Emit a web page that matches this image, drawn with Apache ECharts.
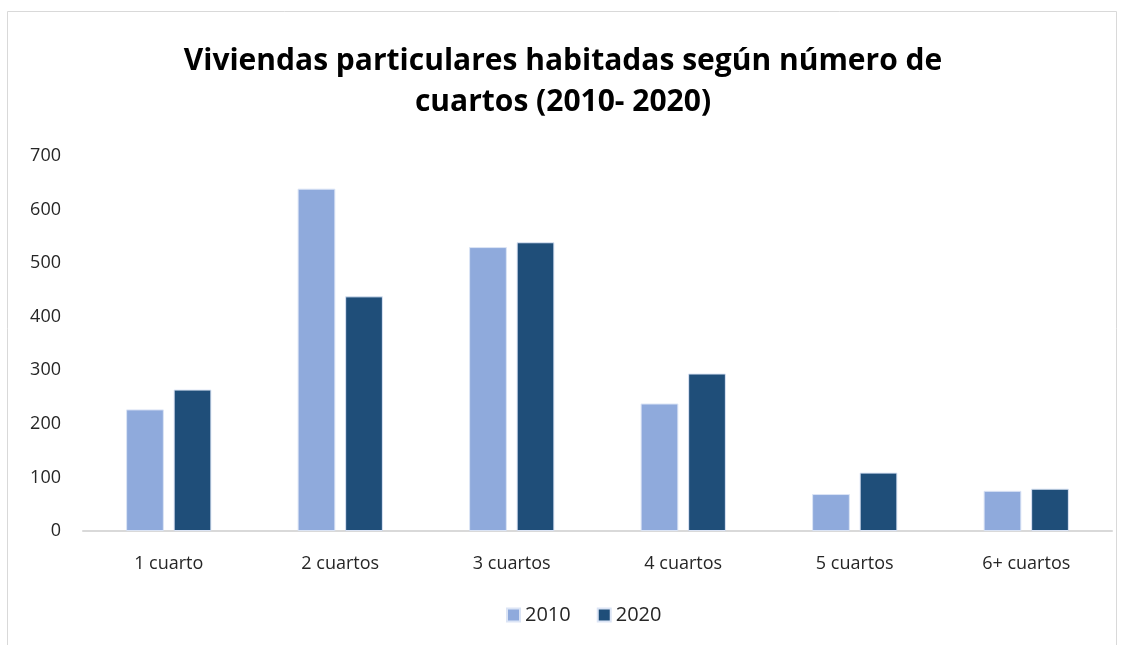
<!DOCTYPE html>
<html>
<head>
<meta charset="utf-8">
<script src="https://cdn.jsdelivr.net/npm/echarts@6/dist/echarts.min.js"></script>
<style>
  html, body { margin: 0; padding: 0; background: #fff; }
  #chart { width: 1126px; height: 645px; }
</style>
</head>
<body>
<div id="chart"></div>
<script>
// 数据
const categories = ['1 cuarto', '2 cuartos', '3 cuartos', '4 cuartos', '5 cuartos', '6+ cuartos'];
const legendData = ['2010', '2020'];
const data2010 = [227, 639, 530, 238, 69, 75];
const data2020 = [264, 438, 539, 294, 109, 79];
const yTicks = { min: 0, max: 700, interval: 100 };

const myEChart = echarts.init(document.getElementById('chart'));
const font = '"Open Sans", "Noto Sans", sans-serif';

const option = {
  backgroundColor: '#ffffff',
  animation: false,
  title: {
    text: 'Viviendas particulares habitadas según número de\ncuartos (2010- 2020)',
    left: 'center',
    top: 36,
    textStyle: {
      fontFamily: font,
      fontWeight: 'bold',
      fontSize: 30,
      lineHeight: 41,
      color: '#000000'
    }
  },
  // 外边框
  graphic: [{
    type: 'rect',
    shape: { x: 7.5, y: 11.5, width: 1109, height: 700 },
    style: { fill: 'none', stroke: '#d9d9d9', lineWidth: 1 },
    silent: true
  }],
  legend: {
    data: legendData,
    bottom: 15,
    left: 501,
    icon: 'rect',
    itemWidth: 13,
    itemHeight: 13,
    itemGap: 26,
    textStyle: { fontFamily: font, fontSize: 20, color: '#262626' }
  },
  grid: {
    left: 83,
    right: 14,
    top: 156,
    bottom: 114,
    containLabel: false
  },
  xAxis: {
    type: 'category',
    data: categories,
    axisTick: { show: false },
    axisLine: { lineStyle: { color: '#d9d9d9', width: 2 } },
    axisLabel: { fontFamily: font, fontSize: 18, color: '#262626', margin: 24 }
  },
  yAxis: {
    type: 'value',
    min: yTicks.min,
    max: yTicks.max,
    interval: yTicks.interval,
    axisLine: { show: false },
    axisTick: { show: false },
    splitLine: { show: false },
    axisLabel: { fontFamily: font, fontSize: 18, color: '#262626', margin: 22 }
  },
  series: [
    {
      name: legendData[0],
      type: 'bar',
      data: data2010,
      barWidth: '22%',
      barGap: '26%',
      itemStyle: { color: '#8faadc', borderColor: '#dbe4f5', borderWidth: 1 }
    },
    {
      name: legendData[1],
      type: 'bar',
      data: data2020,
      barWidth: '22%',
      itemStyle: { color: '#1f4e79', borderColor: '#dbe4f5', borderWidth: 1 }
    }
  ]
};
myEChart.setOption(option);
window.addEventListener('resize', function () {
  myEChart.resize();
});
</script>
</body>
</html>
